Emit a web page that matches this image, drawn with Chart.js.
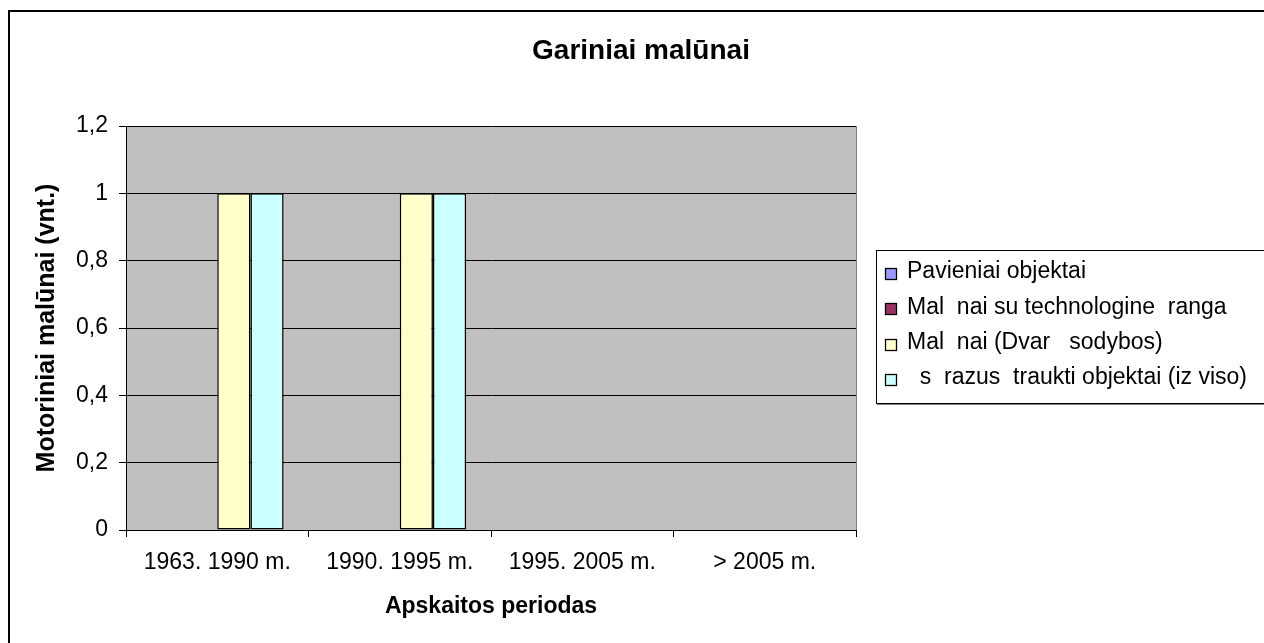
<!DOCTYPE html>
<html><head><meta charset="utf-8">
<script src="https://cdn.jsdelivr.net/npm/chart.js@4.4.1/dist/chart.umd.min.js"></script>
<style>html,body{margin:0;padding:0;background:#fff;overflow:hidden}#wrap{position:relative;width:1264px;height:643px}canvas{display:block}</style>
</head><body><div id="wrap"><canvas id="c" width="1264" height="643"></canvas></div>
<script>
const chartTitle = 'Gariniai malūnai';
const yAxisTitle = 'Motoriniai malūnai (vnt.)';
const xAxisTitle = 'Apskaitos periodas';
const categories = ['1963. 1990 m.', '1990. 1995 m.', '1995. 2005 m.', '> 2005 m.'];
const seriesNames = ['Pavieniai objektai', 'Mal  nai su technologine  ranga', 'Mal  nai (Dvar   sodybos)', '  s  razus  traukti objektai (iz viso)'];
const pavieniai = [0, 0, 0, 0];
const suTechnologine = [0, 0, 0, 0];
const dvaruSodybos = [1, 1, 0, 0];
const itrauktiIsViso = [1, 1, 0, 0];
const yTickValues = [0, 0.2, 0.4, 0.6, 0.8, 1, 1.2];
const yTickLabels = ['0', '0,2', '0,4', '0,6', '0,8', '1', '1,2'];
const seriesColors = ['#9999FF', '#993366', '#FFFFCC', '#CCFFFF'];

const FAM = '"Liberation Sans", Arial, sans-serif';

const decor = {
  id: 'decor',
  beforeDraw(chart) {
    const ctx = chart.ctx, a = chart.chartArea;
    ctx.save();
    ctx.fillStyle = '#fff';
    ctx.fillRect(0, 0, chart.width, chart.height);
    ctx.fillStyle = '#C0C0C0';
    ctx.fillRect(a.left, a.top, a.right - a.left, a.bottom - a.top);
    ctx.restore();
  },
  afterDraw(chart) {
    const ctx = chart.ctx, a = chart.chartArea;
    ctx.save();
    // plot area right border
    ctx.strokeStyle = '#808080';
    ctx.lineWidth = 1;
    ctx.beginPath();
    ctx.moveTo(Math.round(a.right) + 0.5, a.top);
    ctx.lineTo(Math.round(a.right) + 0.5, a.bottom);
    ctx.stroke();
    // outer chart border (left and top visible)
    ctx.fillStyle = '#000';
    ctx.fillRect(8, 10, 2, chart.height);
    ctx.fillRect(8, 10, chart.width, 2);
    // title
    ctx.fillStyle = '#000';
    ctx.font = 'bold 28px ' + FAM;
    ctx.textAlign = 'center';
    ctx.textBaseline = 'middle';
    ctx.fillText(chartTitle, 641, 51);
    // legend
    const lx = 876, ly = 250, lh = 153;
    ctx.fillStyle = '#fff';
    ctx.fillRect(lx, ly, 500, lh);
    ctx.strokeStyle = '#000';
    ctx.lineWidth = 1;
    ctx.strokeRect(lx + 0.5, ly + 0.5, 500, lh);
    ctx.strokeStyle = '#808080';
    ctx.beginPath();
    ctx.moveTo(lx + 1, ly + lh + 1.5);
    ctx.lineTo(chart.width, ly + lh + 1.5);
    ctx.stroke();
    ctx.font = '23px ' + FAM;
    ctx.textAlign = 'left';
    ctx.textBaseline = 'middle';
    chart.data.datasets.forEach((ds, i) => {
      const cy = 272 + i * 35.3;
      const sy = Math.round(cy - 4);
      ctx.fillStyle = ds.backgroundColor;
      ctx.fillRect(885, sy, 12, 12);
      ctx.strokeStyle = '#000';
      ctx.lineWidth = 1.3;
      ctx.strokeRect(885.5, sy + 0.5, 11, 11);
      ctx.fillStyle = '#000';
      ctx.fillText(ds.label, 907, cy);
    });
    ctx.restore();
  }
};

const seriesData = [pavieniai, suTechnologine, dvaruSodybos, itrauktiIsViso];

new Chart(document.getElementById('c'), {
  type: 'bar',
  data: {
    labels: categories,
    datasets: seriesData.map((d, i) => ({
      label: seriesNames[i],
      data: d,
      backgroundColor: seriesColors[i],
      borderColor: '#000',
      borderWidth: 1.5,
      borderSkipped: false,
      categoryPercentage: 4 / 5.5,
      barPercentage: 1
    }))
  },
  options: {
    responsive: false,
    animation: false,
    devicePixelRatio: 1,
    layout: { padding: { left: 0, top: 126, right: 408, bottom: 0 } },
    plugins: { legend: { display: false }, title: { display: false }, tooltip: { enabled: false } },
    scales: {
      x: {
        offset: true,
        grid: { offset: true, drawOnChartArea: false, drawTicks: true, tickLength: 7, color: '#000', tickColor: '#000' },
        border: { color: '#000', width: 1 },
        ticks: { font: { family: FAM, size: 23 }, color: '#000', padding: 12, maxRotation: 0, autoSkip: false },
        title: { display: true, text: xAxisTitle, color: '#000', font: { family: FAM, size: 23, weight: 'bold' }, padding: { top: 0, bottom: 23 } },
        afterFit: s => { s.height = 113; }
      },
      y: {
        min: 0, max: 1.2,
        afterBuildTicks: s => { s.ticks = yTickValues.map(v => ({ value: v })); },
        ticks: { callback: (v, i) => yTickLabels[i], font: { family: FAM, size: 23 }, color: '#000', padding: 11 },
        grid: { color: '#000', lineWidth: 1, tickLength: 7, tickColor: '#000', drawTicks: true },
        border: { color: '#000', width: 1 },
        title: { display: true, text: yAxisTitle, color: '#000', font: { family: FAM, size: 25, weight: 'bold' }, padding: { top: 32, bottom: 0 } },
        afterFit: s => { s.width = 126; }
      }
    }
  },
  plugins: [decor]
});
</script>
</body></html>
